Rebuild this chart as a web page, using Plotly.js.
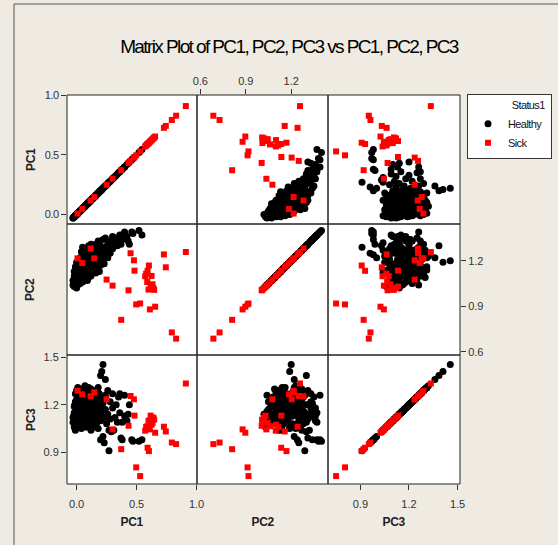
<!DOCTYPE html>
<html>
<head>
<meta charset="utf-8">
<script src="https://cdn.plot.ly/plotly-3.0.1.min.js"></script>
<style>
html,body{margin:0;padding:0;background:#efebe2;}
#chart{width:558px;height:545px;}
#chart .gtitle{letter-spacing:-1.6px;}
#chart .xtick text, #chart .ytick text{letter-spacing:-0.4px;}
#chart .legendtext, #chart .legendtitletext{letter-spacing:-0.6px;}
#chart .annotation-text{letter-spacing:-0.4px;}
</style>
</head>
<body>
<div id="chart"></div>
<script>
// ---------------- data ----------------
const variables = ['PC1', 'PC2', 'PC3'];
const groupNames = ['Healthy', 'Sick'];
const legendTitle = 'Status1';
const chartTitle = 'Matrix Plot of PC1, PC2, PC3 vs PC1, PC2, PC3';

const healthyPC1 = [
 -0.03,-0.03,-0.02,-0.02,-0.02,-0.01,-0.01,-0.01,-0.01,0.00,0.00,0.00,0.00,0.00,0.01,0.01,0.01,0.01,0.02,0.02,0.02,0.02,
 0.03,0.03,0.03,0.03,0.04,0.04,0.04,0.04,0.05,0.05,0.05,0.05,0.05,0.06,0.06,0.06,0.06,0.07,0.07,0.07,0.07,0.08,0.08,0.08,0.08,
 0.09,0.09,0.09,0.09,0.10,0.10,0.10,0.10,0.11,0.11,0.11,0.12,0.12,0.12,0.12,0.12,0.13,0.13,0.13,0.14,0.14,0.14,0.15,0.15,0.15,
 0.16,0.16,0.16,0.16,0.17,0.17,0.17,0.18,0.18,0.18,0.19,0.19,0.19,0.20,0.20,0.20,0.21,0.21,0.22,0.22,0.22,0.21,
 0.24,0.23,0.23,0.24,0.24,0.25,0.26,0.26,0.27,0.27,0.28,0.28,0.29,0.30,0.30,
 0.31,0.32,0.33,0.34,0.35,0.36,0.36,0.37,0.38,0.38,0.40,0.40,
 0.42,0.43,0.44,0.46,0.47,0.52,0.545,
 -0.025,-0.015,-0.005,-0.005,0.005,0.005,0.015,0.015,0.025,0.025,0.035,0.035,0.045,0.045,0.055,0.055,0.065,0.065,0.075,0.075,
 0.085,0.085,0.095,0.095,0.105,0.105,0.115,0.115,0.125,0.125,0.135,0.135,0.145,0.145,0.155,0.165,0.175,0.185,0.195,0.205
];
const healthyPC2 = [
 1.04,1.07,1.03,1.10,1.13,1.05,1.08,1.16,1.12,1.02,1.06,1.11,1.15,1.19,1.04,1.09,1.14,1.18,1.07,1.12,1.17,1.20,
 1.05,1.10,1.15,1.22,1.08,1.13,1.19,1.26,1.06,1.11,1.17,1.24,1.29,1.09,1.14,1.20,1.27,1.08,1.12,1.18,1.23,1.10,1.16,1.21,1.28,
 1.07,1.13,1.19,1.25,1.09,1.15,1.22,1.30,1.11,1.17,1.24,1.10,1.14,1.20,1.27,1.31,1.12,1.18,1.23,1.13,1.21,1.28,1.15,1.19,1.25,
 1.12,1.18,1.24,1.31,1.14,1.21,1.27,1.16,1.23,1.33,1.13,1.19,1.26,1.17,1.24,1.30,1.20,1.28,1.22,1.34,1.20,1.19,
 1.22,1.25,1.18,1.29,1.35,1.24,1.31,1.22,1.29,1.27,1.33,1.25,1.30,1.36,1.28,
 1.32,1.35,1.34,1.30,1.35,1.33,1.37,1.31,1.34,1.37,1.39,1.36,
 1.36,1.33,1.31,1.39,1.38,1.40,1.37,
 1.06,1.09,1.04,1.14,1.08,1.16,1.11,1.21,1.06,1.14,1.12,1.18,1.10,1.23,1.08,1.15,1.12,1.24,1.15,1.20,
 1.13,1.25,1.16,1.21,1.12,1.26,1.14,1.20,1.17,1.24,1.15,1.28,1.17,1.24,1.21,1.16,1.24,1.19,1.22,1.27
];
const healthyPC3 = [
 1.09,1.12,1.06,1.15,1.19,1.22,1.10,1.27,1.04,1.14,1.18,1.29,1.08,1.23,1.26,1.12,1.31,1.16,1.20,1.07,1.24,1.13,
 1.17,1.28,1.09,1.21,1.14,1.25,1.05,1.30,1.22,1.11,1.18,1.27,1.15,1.30,1.07,1.24,1.12,1.19,1.26,1.10,1.32,1.16,1.21,1.08,1.25,
 1.13,1.29,1.18,1.06,1.23,1.15,1.31,1.20,1.09,1.27,1.14,1.18,1.04,1.22,1.30,1.11,1.26,1.12,1.19,1.16,1.28,1.08,1.22,1.06,1.17,
 1.14,1.25,1.20,1.29,1.09,1.16,1.23,1.31,1.05,1.18,1.21,1.13,1.27,1.10,0.98,1.385,1.24,1.16,1.00,1.21,1.455,1.41,
 1.36,0.96,1.12,1.26,1.17,1.08,1.14,1.29,0.91,1.04,1.22,1.11,1.03,1.18,1.27,
 1.04,1.12,1.20,1.09,1.25,1.27,1.15,0.99,0.98,1.09,1.26,1.13,
 1.10,1.14,1.20,0.98,0.97,0.97,0.98,
 1.13,1.20,1.16,1.11,1.24,1.19,1.15,1.28,1.10,1.22,1.19,1.26,1.08,1.17,1.25,1.13,1.21,1.28,1.15,1.06,
 1.27,1.19,1.10,1.24,1.17,1.12,1.29,1.07,1.15,1.24,1.20,1.16,1.11,1.23,1.13,1.19,1.28,1.22,1.15,1.20
];

const sickPC1 = [0.008,0.047,0.117,0.147,0.25,0.30,0.372,0.433,0.45,0.478,0.483,0.497,0.53,0.572,0.592,0.603,0.589,0.600,0.617,0.625,0.633,0.640,0.647,0.611,0.655,0.580,0.728,0.744,0.794,0.83,0.911];
const sickPC2 = [1.216,1.185,1.281,1.216,1.076,1.036,0.81,1.005,1.25,1.203,1.135,0.912,0.918,1.098,1.134,1.169,1.06,1.010,1.030,1.100,1.045,1.020,1.008,0.879,0.897,1.115,1.242,1.157,0.727,0.686,1.258];
const sickPC3 = [1.289,1.266,1.254,1.279,1.235,1.045,0.92,1.068,1.256,1.235,1.132,0.805,0.75,1.037,0.929,0.908,1.065,1.100,1.132,1.075,1.086,1.120,1.107,1.045,1.024,1.060,1.062,1.032,0.962,0.952,1.335];

const pc1Ticks = [0, 0.5, 1.0];
const pc1TickText = ['0.0', '0.5', '1.0'];
const pc2Ticks = [0.6, 0.9, 1.2];
const pc2TickText = ['0.6', '0.9', '1.2'];
const pc3Ticks = [0.9, 1.2, 1.5];
const pc3TickText = ['0.9', '1.2', '1.5'];

// ---------------- layout / style ----------------
const W = 558, H = 545;
const FONT = "'Liberation Sans', Arial, sans-serif";
const colPx = [[67, 197], [197, 328], [328, 460]];
const rowPx = [[95, 224], [224, 355], [355, 484]];
const axisRange = {PC1: [-0.08, 1.004], PC2: [0.578, 1.443], PC3: [0.70, 1.515]};
const healthy = {PC1: healthyPC1, PC2: healthyPC2, PC3: healthyPC3};
const sick = {PC1: sickPC1, PC2: sickPC2, PC3: sickPC3};
const ticks = {PC1: [pc1Ticks, pc1TickText], PC2: [pc2Ticks, pc2TickText], PC3: [pc3Ticks, pc3TickText]};

const px = x => x / W;
const py = y => 1 - y / H;

const traces = [];
const layout = {
  width: W, height: H,
  margin: {l: 0, r: 0, t: 0, b: 0},
  paper_bgcolor: '#efebe2',
  plot_bgcolor: '#ffffff',
  font: {family: FONT, size: 11, color: '#333'},
  title: {text: chartTitle, x: px(289), xanchor: 'center', y: py(46), yanchor: 'middle',
          font: {family: FONT, size: 19, color: '#000'}},
  showlegend: true,
  legend: {x: px(467), y: py(94), xanchor: 'left', yanchor: 'top',
           bgcolor: '#ffffff', bordercolor: '#333', borderwidth: 1,
           font: {family: FONT, size: 11, color: '#111'},
           title: {text: legendTitle, side: 'top right', font: {family: FONT, size: 11, color: '#111'}},
           itemwidth: 30, tracegroupgap: 0},
  shapes: [],
  annotations: []
};

const healthyTraces = [], sickTraces = [];
for (let r = 0; r < 3; r++) {
  for (let c = 0; c < 3; c++) {
    const k = r * 3 + c + 1;
    const xr = k === 1 ? 'x' : 'x' + k;
    const yr = k === 1 ? 'y' : 'y' + k;
    const xv = variables[c], yv = variables[r];
    healthyTraces.push({
      type: 'scatter', mode: 'markers', name: groupNames[0], legendgroup: 'h', showlegend: k === 1,
      x: healthy[xv], y: healthy[yv], xaxis: xr, yaxis: yr,
      marker: {symbol: 'circle', size: 7, color: '#000000', line: {width: 0}},
      hoverinfo: 'skip'
    });
    sickTraces.push({
      type: 'scatter', mode: 'markers', name: groupNames[1], legendgroup: 's', showlegend: k === 1,
      x: sick[xv], y: sick[yv], xaxis: xr, yaxis: yr,
      marker: {symbol: 'square', size: 6, color: '#ff0000', line: {width: 0}},
      hoverinfo: 'skip'
    });

    const xShow = (r === 2 && (c === 0 || c === 2)) || (r === 0 && c === 1);
    const yShow = (c === 0 && (r === 0 || r === 2)) || (c === 2 && r === 1);
    const xTop = (r === 0 && c === 1);
    const xa = {
      domain: [px(colPx[c][0]), px(colPx[c][1])], range: axisRange[xv], anchor: yr,
      showgrid: false, zeroline: false, showline: false,
      showticklabels: xShow, ticks: xShow ? 'outside' : '', ticklen: 5, tickwidth: 1, tickcolor: '#333',
      tickvals: ticks[xv][0], ticktext: ticks[xv][1], ticklabelstandoff: xTop ? 0 : 5,
      tickfont: {family: FONT, size: 11, color: '#333'},
      side: xTop ? 'top' : 'bottom', fixedrange: true
    };
    const ya = {
      domain: [py(rowPx[r][1]), py(rowPx[r][0])], range: axisRange[yv], anchor: xr,
      showgrid: false, zeroline: false, showline: false,
      showticklabels: yShow, ticks: yShow ? 'outside' : '', ticklen: 5, tickwidth: 1, tickcolor: '#333',
      tickvals: ticks[yv][0], ticktext: ticks[yv][1], ticklabelstandoff: 0,
      tickfont: {family: FONT, size: 11, color: '#333'},
      side: (c === 2 && r === 1) ? 'right' : 'left', fixedrange: true
    };
    layout[k === 1 ? 'xaxis' : 'xaxis' + k] = xa;
    layout[k === 1 ? 'yaxis' : 'yaxis' + k] = ya;

    layout.shapes.push({type: 'rect', xref: 'paper', yref: 'paper',
      x0: px(colPx[c][0]), x1: px(colPx[c][1]), y0: py(rowPx[r][1]), y1: py(rowPx[r][0]),
      line: {color: '#222', width: 1}, fillcolor: 'rgba(0,0,0,0)', layer: 'above'});
  }
}
traces.push(...healthyTraces, ...sickTraces);

// outer frame (left and top edges)
layout.shapes.push({type: 'line', xref: 'paper', yref: 'paper', x0: px(14), x1: px(14), y0: 0, y1: py(4), line: {color: '#555', width: 1}});
layout.shapes.push({type: 'line', xref: 'paper', yref: 'paper', x0: px(14), x1: 1, y0: py(4), y1: py(4), line: {color: '#555', width: 1}});

// axis titles
for (let i = 0; i < 3; i++) {
  layout.annotations.push({text: '<b>' + variables[i] + '</b>', xref: 'paper', yref: 'paper',
    x: px((colPx[i][0] + colPx[i][1]) / 2), y: py(522), xanchor: 'center', yanchor: 'middle', showarrow: false,
    font: {family: FONT, size: 12, color: '#222'}});
  layout.annotations.push({text: '<b>' + variables[i] + '</b>', xref: 'paper', yref: 'paper',
    x: px(30), y: py((rowPx[i][0] + rowPx[i][1]) / 2), xanchor: 'center', yanchor: 'middle', showarrow: false,
    textangle: -90, font: {family: FONT, size: 12, color: '#222'}});
}

Plotly.newPlot('chart', traces, layout, {staticPlot: true, displayModeBar: false});
</script>
</body>
</html>
